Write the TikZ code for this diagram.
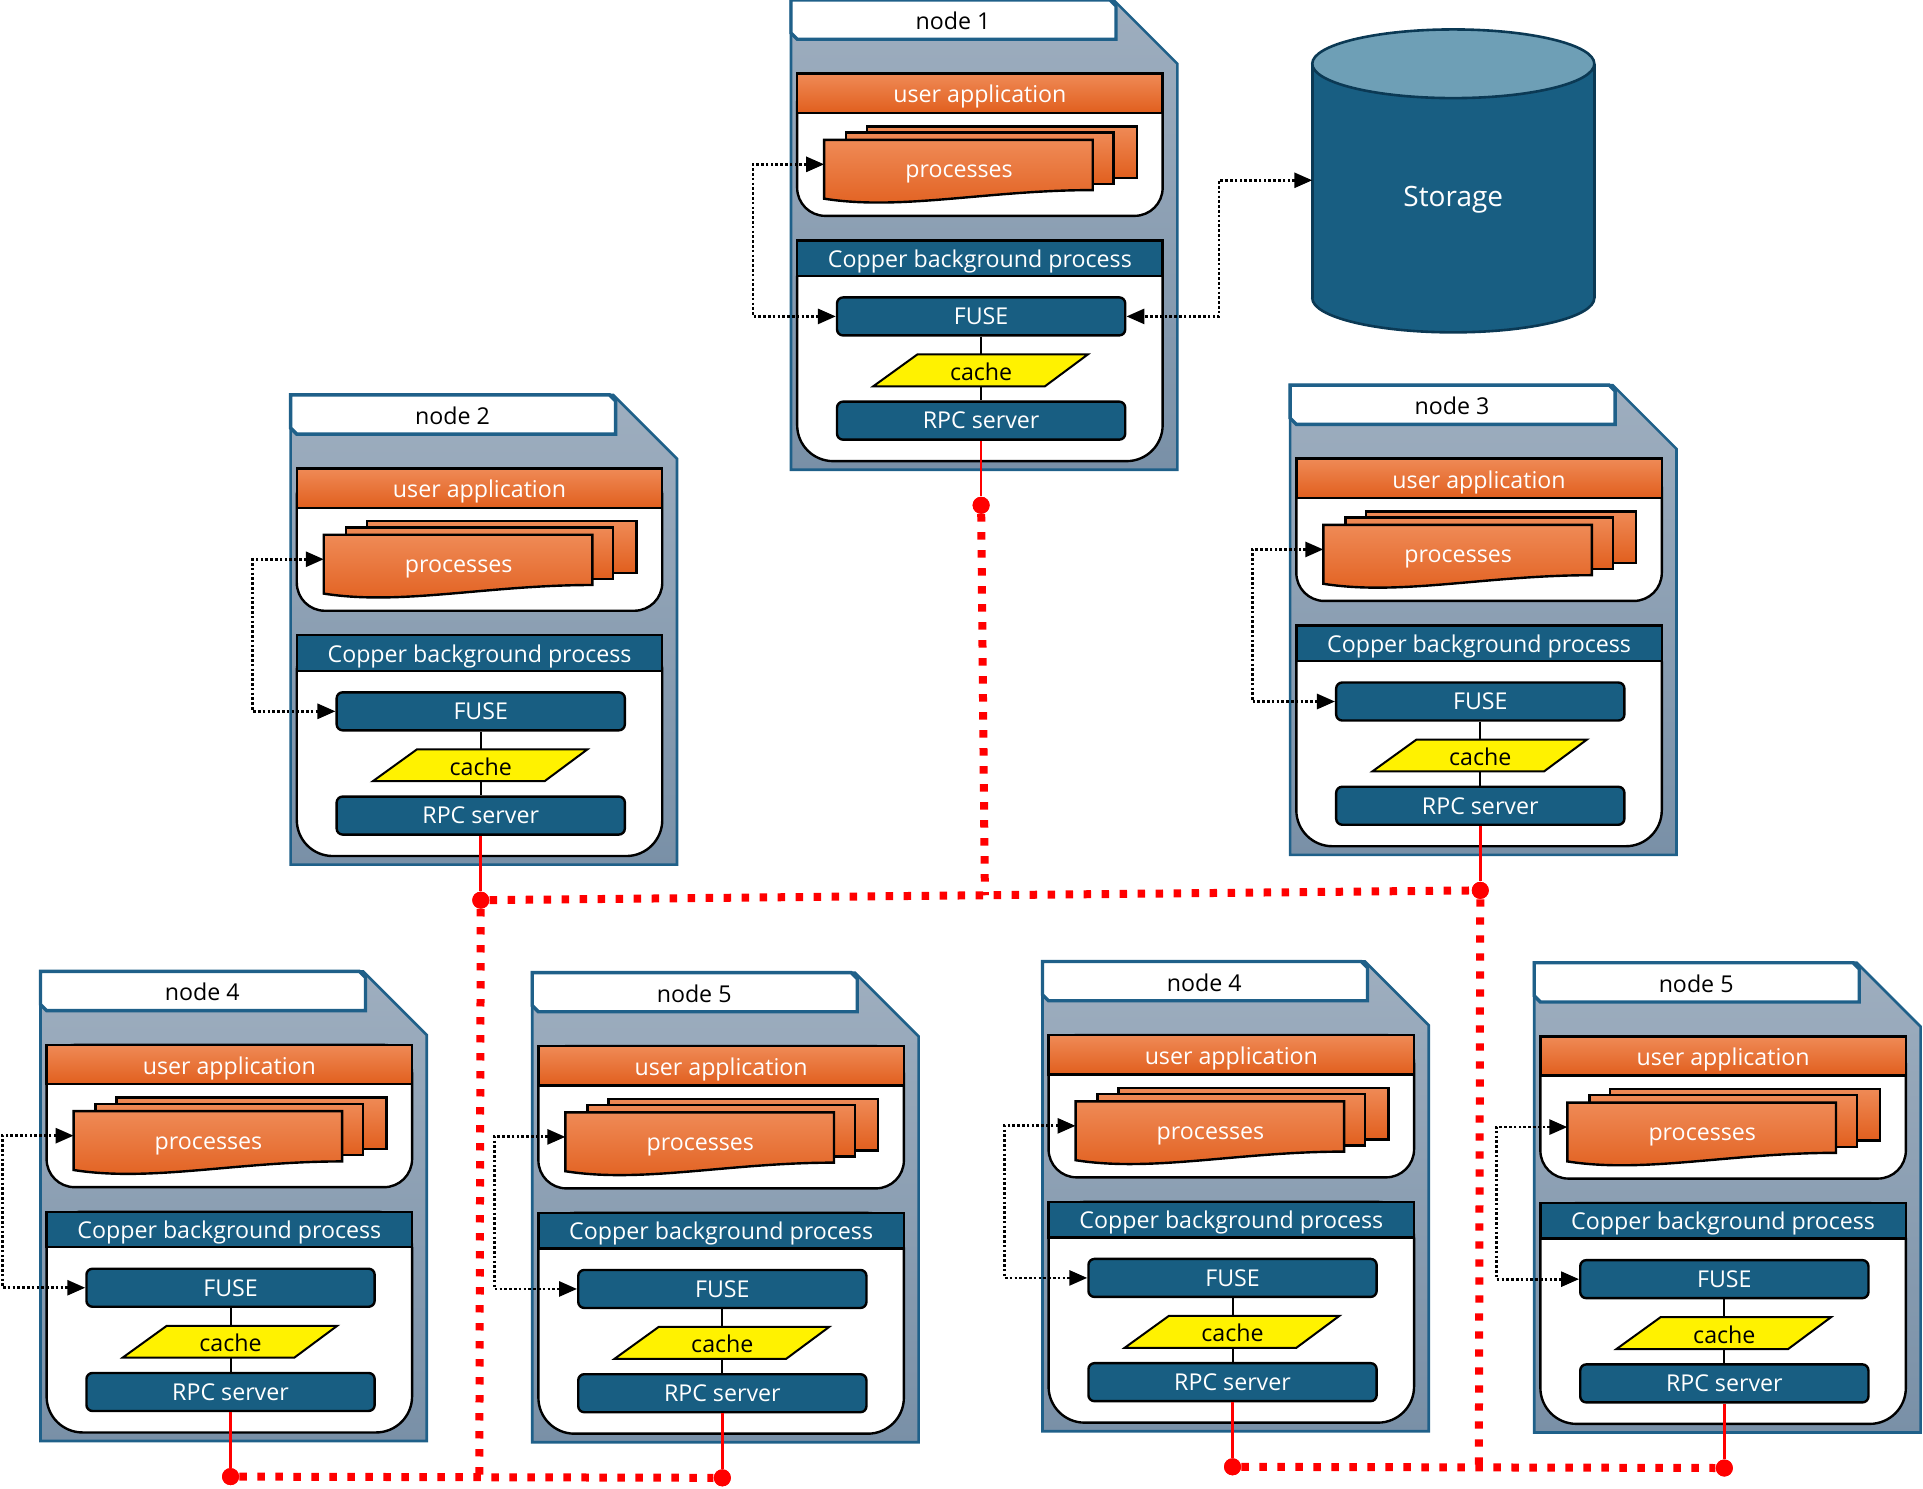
\documentclass[tikz,border=0pt]{standalone}
\usepackage{fontspec}
\setmainfont{Open Sans}
\usetikzlibrary{arrows.meta,calc}
\definecolor{hostline}{HTML}{1F6089}
\definecolor{hosttop}{HTML}{9EAEBF}
\definecolor{hostbot}{HTML}{7990A7}
\definecolor{copblue}{HTML}{185E82}
\definecolor{orgtop}{HTML}{EF8A56}
\definecolor{orgbot}{HTML}{E15F1E}
\definecolor{stortop}{HTML}{6E9FB6}
\definecolor{storedge}{HTML}{0B3954}

\tikzset{
  txt/.style={font=\fontsize{11.6}{14}\selectfont},
  hostshape/.style={draw=hostline, line width=1.3pt, top color=hosttop, bottom color=hostbot},
  tabshape/.style={draw=hostline, line width=1.7pt, fill=white},
  panel/.style={draw=black, line width=1.2pt, fill=white},
  orghead/.style={draw=black, line width=1.2pt, top color=orgtop, bottom color=orgbot},
  bluehead/.style={draw=black, line width=1.2pt, fill=copblue},
  procshape/.style={draw=black, line width=1.2pt, top color=orgtop, bottom color=orgbot},
  bluebox/.style={txt, draw=black, line width=1.2pt, fill=copblue, text=white, rounded corners=3pt,
    minimum width=144.1pt, minimum height=19pt, inner sep=0pt},
  cacheshape/.style={draw=black, line width=1pt, fill=yellow},
  whitetxt/.style={txt, text=white, inner sep=0pt},
  reddot/.style={circle, fill=red, minimum size=8.5pt, inner sep=0pt},
  rpcline/.style={draw=red, line width=1.3pt},
  netline/.style={draw=red, line width=4pt, dash pattern=on 3.7pt off 5.3pt},
  loopline/.style={draw=black, line width=1.4pt, dash pattern=on 1.3pt off 1.1pt,
    {Triangle[length=9pt,width=7.5pt]}-{Triangle[length=9pt,width=7.5pt]}},
  pics/hostbox/.style={code={
    % folder and tab
    \draw[hostshape] (0,0) -- (263,0) -- (315,52) -- (315,383) -- (0,383) -- cycle;
    \draw[tabshape] (0,0) -- (260,0) -- (265,5) -- (265,32) -- (5,32) -- (0,27) -- cycle;
    \node[txt] (-tab) at (132,17) {#1};
    % user application
    \draw[panel, rounded corners=14pt] (5,60) rectangle (303,176);
    \draw[orghead] (5,60) rectangle (303,92);
    \node[whitetxt] (-app) at (154,79) {user application};
    \draw[procshape] (62,103) rectangle (282,145);
    \draw[procshape] (45,108) rectangle (263,150);
    \draw[procshape] (27,114) -- (246,114) -- (246,155) .. controls (160,155) and (90,172) .. (27,162) -- cycle;
    \node[whitetxt] (-proc) at (137,142) {processes};
    \coordinate (-procin) at (27,134);
    % copper background process
    \draw[panel, rounded corners=18pt] (5,196) rectangle (303,376);
    \draw[bluehead] (5,196) rectangle (303,225);
    \node[whitetxt] (-cop) at (154,213) {Copper background process};
    \node[bluebox] (-fuse) at (155,258) {FUSE};
    \node[bluebox] (-rpc) at (155,343) {RPC server};
    \draw[black, line width=1pt] (-fuse) -- (-rpc);
    \draw[cacheshape] (67,315) -- (207,315) -- (242,289) -- (103,289) -- cycle;
    \node[txt, inner sep=0pt] (-cache) at (155,303) {cache};
    \node[reddot] (-dot) at (155,412) {};
    \draw[rpcline] (-rpc) -- (-dot);
  }}
}

\begin{document}
\begin{tikzpicture}[x=0.6132pt, y=-0.6132pt]
\useasboundingbox (0,0) rectangle (1568,1214);

\pic (n1) at (645,0) {hostbox={node 1}};
\pic (n2) at (237,322) {hostbox={node 2}};
\pic (n3) at (1052,314) {hostbox={node 3}};
\pic (n4) at (33,792) {hostbox={node 4}};
\pic (n5) at (434,793) {hostbox={node 5}};
\pic (n6) at (850,784) {hostbox={node 4}};
\pic (n7) at (1251,785) {hostbox={node 5}};

% storage
\draw[storedge, line width=1.3pt, fill=copblue] (1185,243) ellipse [x radius=115, y radius=28];
\fill[copblue] (1070,52) rectangle (1300,243);
\draw[storedge, line width=1.3pt] (1070,52) -- (1070,243) (1300,52) -- (1300,243);
\draw[storedge, line width=1.3pt, fill=stortop] (1185,52) ellipse [x radius=115, y radius=28];
\node[font=\fontsize{14}{17}\selectfont, text=white] (stor) at (1185,163) {Storage};
\coordinate (storin) at (1070,147);

% dotted loops
\foreach \n in {n1,n2,n3,n4,n5,n6,n7}
  \draw[loopline] (\n-procin) -- ++(-58,0) |- (\n-fuse.west);
\draw[loopline] (storin) -- ++(-76,0) |- (n1-fuse.east);

% network
\draw[netline] (n2-dot) -- (n3-dot);
\draw[netline] (n1-dot) -- ($(n2-dot)!(n1-dot)!(n3-dot)$);
\draw[netline] (n4-dot) -- (n5-dot);
\draw[netline] (n2-dot) -- ($(n4-dot)!(n2-dot)!(n5-dot)$);
\draw[netline] (n6-dot) -- (n7-dot);
\draw[netline] (n3-dot) -- ($(n6-dot)!(n3-dot)!(n7-dot)$);
\foreach \n in {n1,n2,n3,n4,n5,n6,n7}
  \node[reddot] (\n-cap) at (\n-dot) {};
\end{tikzpicture}
\end{document}
